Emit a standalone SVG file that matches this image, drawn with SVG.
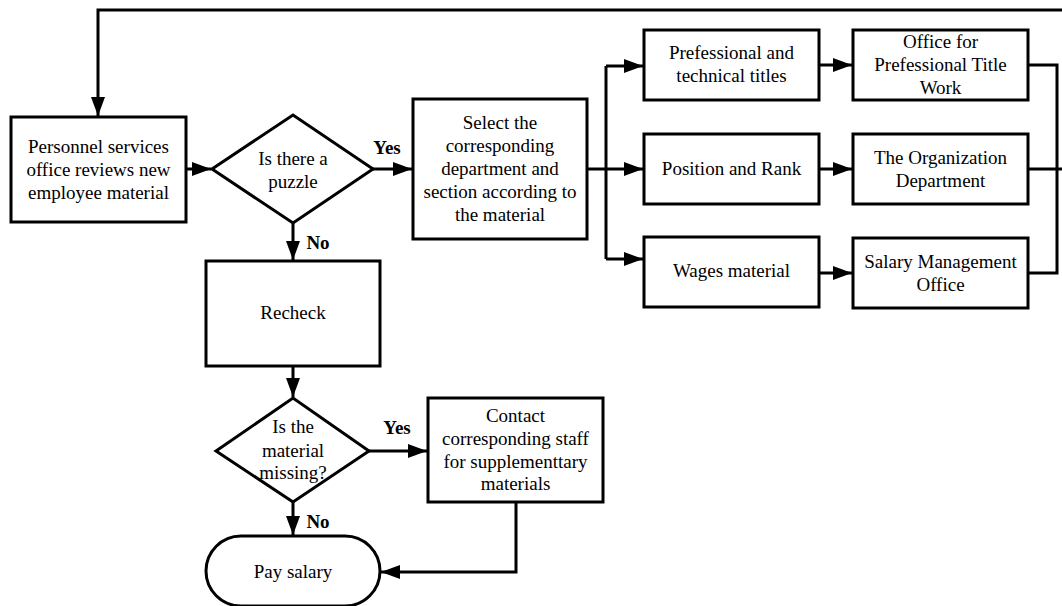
<svg xmlns="http://www.w3.org/2000/svg" width="1062" height="606" viewBox="0 0 1062 606">
<style>
.n{fill:#fff;stroke:#000;stroke-width:3}
.t{font-family:"Liberation Serif","Times New Roman",serif;font-size:19px;fill:#000;text-anchor:middle}
.b{font-family:"Liberation Serif","Times New Roman",serif;font-size:19px;font-weight:bold;fill:#000;text-anchor:middle}
.c{fill:none;stroke:#000;stroke-width:3}
</style>
<defs>
<marker id="ah" viewBox="0 0 19 14" refX="19" refY="7" markerWidth="19" markerHeight="14" markerUnits="userSpaceOnUse" orient="auto">
<path d="M0,0 L19,7 L0,14 z" fill="#000"/>
</marker>
</defs>
<rect width="1062" height="606" fill="#fff"/>
<g id="connectors">
<path class="c" d="M1062,10 H98 V116" marker-end="url(#ah)"/>
<path class="c" d="M186,169 H211" marker-end="url(#ah)"/>
<path class="c" d="M373,169 H412" marker-end="url(#ah)"/>
<path class="c" d="M587,169 H606"/>
<path class="c" d="M606,66 V259"/>
<path class="c" d="M606,66 H643" marker-end="url(#ah)"/>
<path class="c" d="M606,169 H643" marker-end="url(#ah)"/>
<path class="c" d="M606,259 H643" marker-end="url(#ah)"/>
<path class="c" d="M819,65 H852" marker-end="url(#ah)"/>
<path class="c" d="M819,169 H852" marker-end="url(#ah)"/>
<path class="c" d="M819,273 H852" marker-end="url(#ah)"/>
<path class="c" d="M1028,65 H1057 V273 H1028"/>
<path class="c" d="M1028,169 H1062"/>
<path class="c" d="M293,223 V260" marker-end="url(#ah)"/>
<path class="c" d="M293,366 V397" marker-end="url(#ah)"/>
<path class="c" d="M369,451 H427" marker-end="url(#ah)"/>
<path class="c" d="M293,502 V535" marker-end="url(#ah)"/>
<path class="c" d="M516,502 V572 H381" marker-end="url(#ah)"/>
<text class="b" x="387" y="154">Yes</text>
<text class="b" x="318" y="249">No</text>
<text class="b" x="397" y="434">Yes</text>
<text class="b" x="318" y="528">No</text>
</g>
<g id="n_review">
<rect class="n" x="11" y="117" width="175" height="105"/>
<text class="t" x="98.5" y="153">Personnel services</text>
<text class="t" x="98.5" y="176">office reviews new</text>
<text class="t" x="98.5" y="199">employee material</text>
</g>
<g id="n_puzzle">
<polygon class="n" points="212,169 293,115 373,169 293,223"/>
<text class="t" x="293" y="165">Is there a</text>
<text class="t" x="293" y="188">puzzle</text>
</g>
<g id="n_select">
<rect class="n" x="413" y="99" width="174" height="140"/>
<text class="t" x="500" y="129">Select the</text>
<text class="t" x="500" y="152">corresponding</text>
<text class="t" x="500" y="175">department and</text>
<text class="t" x="500" y="198">section according to</text>
<text class="t" x="500" y="221">the material</text>
</g>
<g id="n_titles">
<rect class="n" x="644" y="30" width="175" height="70"/>
<text class="t" x="731.5" y="59">Prefessional and</text>
<text class="t" x="731.5" y="82">technical titles</text>
</g>
<g id="n_position">
<rect class="n" x="644" y="134" width="175" height="70"/>
<text class="t" x="731.5" y="175">Position and Rank</text>
</g>
<g id="n_wages">
<rect class="n" x="644" y="237" width="175" height="70"/>
<text class="t" x="731.5" y="277">Wages material</text>
</g>
<g id="n_office">
<rect class="n" x="853" y="30" width="175" height="70"/>
<text class="t" x="940.5" y="48">Office for</text>
<text class="t" x="940.5" y="71">Prefessional Title</text>
<text class="t" x="940.5" y="94">Work</text>
</g>
<g id="n_org">
<rect class="n" x="853" y="134" width="175" height="70"/>
<text class="t" x="940.5" y="164">The Organization</text>
<text class="t" x="940.5" y="187">Department</text>
</g>
<g id="n_salary">
<rect class="n" x="853" y="238" width="175" height="70"/>
<text class="t" x="940.5" y="268">Salary Management</text>
<text class="t" x="940.5" y="291">Office</text>
</g>
<g id="n_recheck">
<rect class="n" x="206" y="261" width="174" height="105"/>
<text class="t" x="293" y="319">Recheck</text>
</g>
<g id="n_missing">
<polygon class="n" points="216,451 293,398 369,451 293,502"/>
<text class="t" x="293" y="433">Is the</text>
<text class="t" x="293" y="457">material</text>
<text class="t" x="293" y="479">missing?</text>
</g>
<g id="n_contact">
<rect class="n" x="428" y="398" width="175" height="104"/>
<text class="t" x="515.5" y="422">Contact</text>
<text class="t" x="515.5" y="445">corresponding staff</text>
<text class="t" x="515.5" y="468">for supplementtary</text>
<text class="t" x="515.5" y="490">materials</text>
</g>
<g id="n_pay">
<rect class="n" x="206" y="536" width="174" height="70" rx="35" ry="35"/>
<text class="t" x="293" y="578">Pay salary</text>
</g>
</svg>
